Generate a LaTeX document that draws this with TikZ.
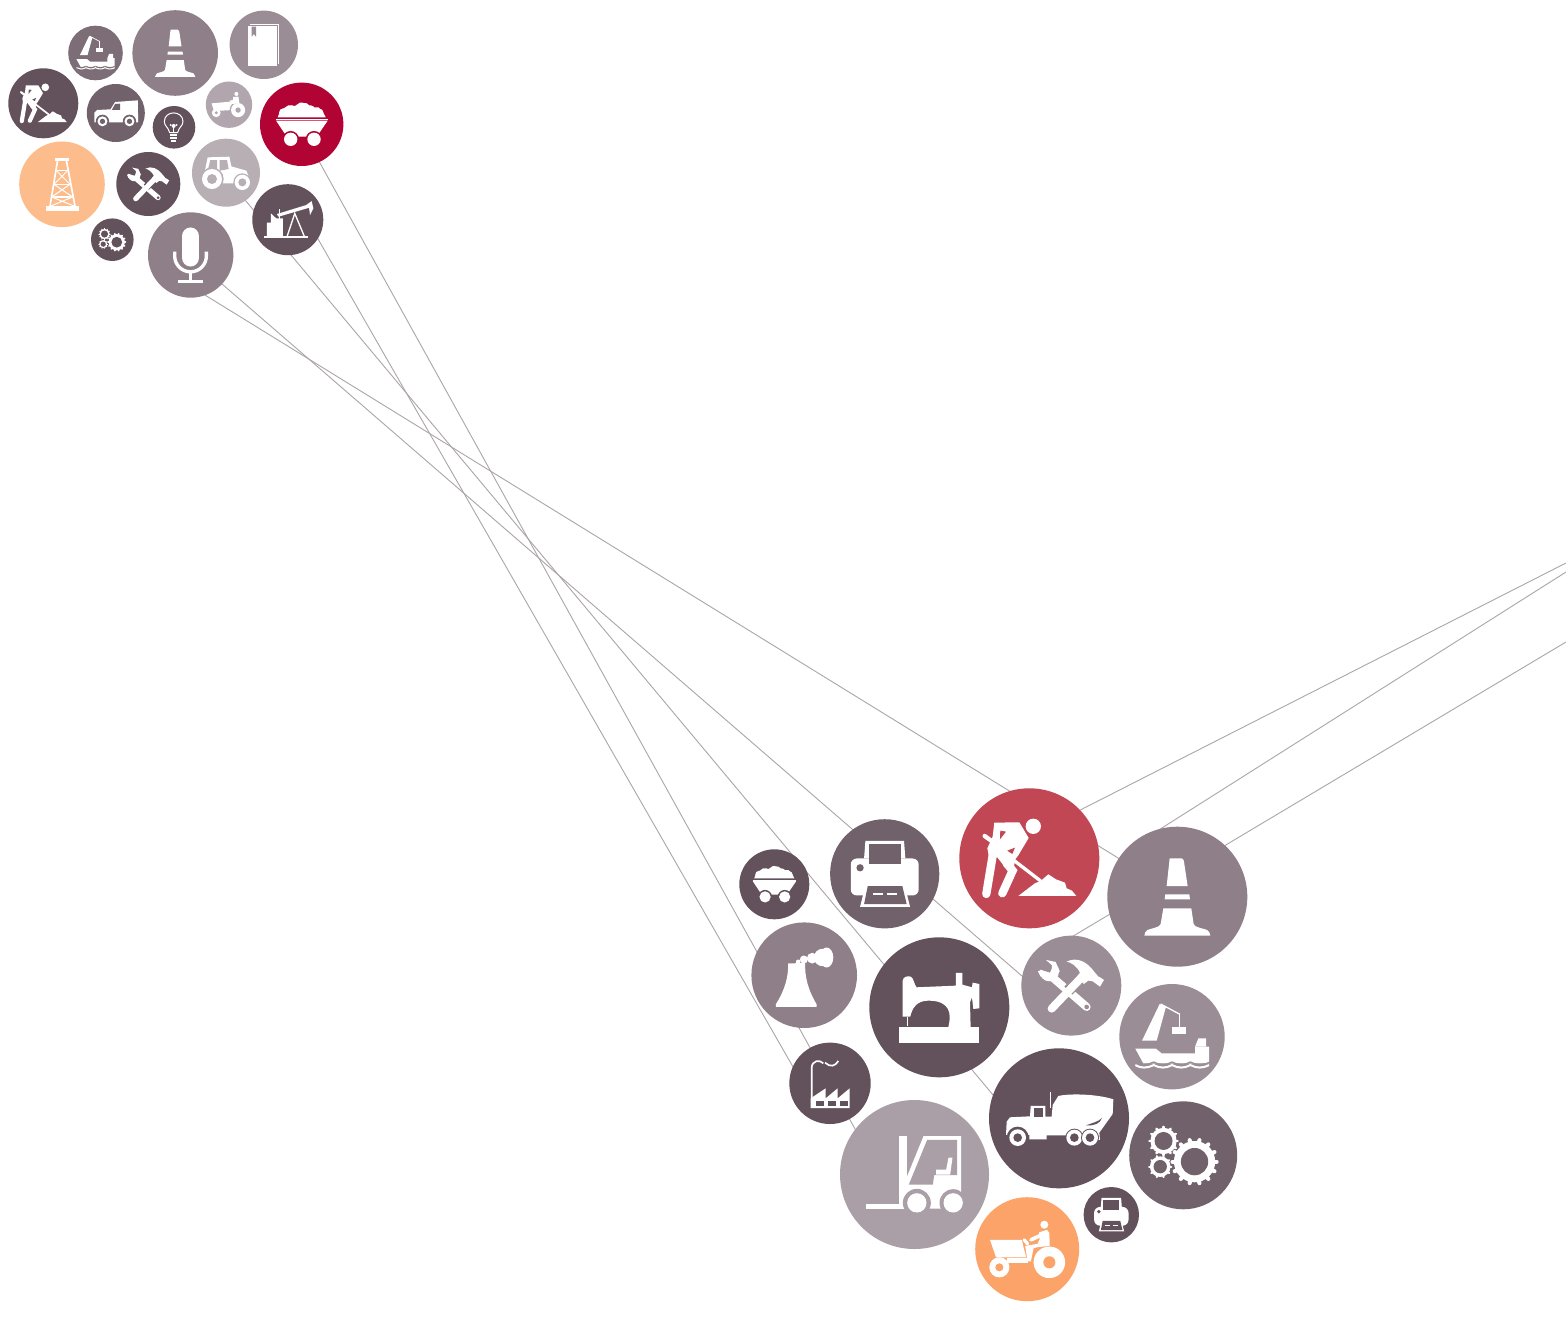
\documentclass[tikz,border=0pt]{standalone}
\usetikzlibrary{backgrounds}
\definecolor{cDark}{HTML}{63525C}
\definecolor{cDarkB}{HTML}{71616B}
\definecolor{cShipT}{HTML}{7D6D77}
\definecolor{cMid}{HTML}{8F7F88}
\definecolor{cMidB}{HTML}{9B8D96}
\definecolor{cLight}{HTML}{AB9FA7}
\definecolor{cLightB}{HTML}{B1A6AD}
\definecolor{cLightC}{HTML}{B8AFB5}
\definecolor{cRed}{HTML}{B20335}
\definecolor{cRose}{HTML}{C04753}
\definecolor{cPeach}{HTML}{FCBC8C}
\definecolor{cOrange}{HTML}{FBA369}
\definecolor{cLine}{HTML}{ABA5A9}
\newlength\iu
\tikzset{
  badge/.style={circle,inner sep=0pt,outer sep=0pt,draw=none},
  wh/.style={fill=white,draw=none},
  hole/.style={fill=bg,draw=none},
  st/.style={draw=white,line width=#1*\iu},
  stb/.style={draw=bg,line width=#1*\iu},
  wire/.style={draw=cLine,line width=0.45pt}
}
\long\def\icondef#1#2#3#4#5{%
  \expandafter\def\csname set#1\endcsname{\def\ix{#2}\def\iy{#3}\def\iR{#4}}%
  \expandafter\long\expandafter\def\csname draw#1\endcsname{#5}}
\newcommand\badge[6]{%
  \node[badge,fill=#6,minimum size=#5 pt] (#1) at (#3,#4) {};
  \colorlet{bg}{#6}%
  \csname set#2\endcsname
  \pgfmathsetmacro\iconscale{#5/\iR}%
  \pgfmathsetlength\iu{\iconscale*0.5pt}%
  \begin{scope}[shift={(#3,#4)},scale=\iconscale,shift={(-\ix,-\iy)}]
    \csname draw#2\endcsname
  \end{scope}}
\newcommand\gearshape[5]{%
  \fill[wh] (#1,#2) circle ({#3*.86});
  \foreach \k in {1,...,#5}{%
    \pgfmathsetmacro\ang{\k*360/#5}%
    \draw[st={#3*.17},line cap=round] (#1,#2) ++(\ang:{#3*.8}) -- ++(\ang:{#3*.12});
  }
  \fill[hole] (#1,#2) circle (#4);}
\newcommand\rwheel[5]{% x y arch outer hole
  \fill[hole] (#1,#2) circle (#3);
  \fill[wh] (#1,#2) circle (#4);
  \fill[hole] (#1,#2) circle (#5);}

\icondef{Worker}{238}{235}{210}{
  \fill[wh] (250,139) circle (23);
  \fill[wh] (133,128)--(208,127)--(236,174)--(205,226)--(196,238)--(190,270)--(165,262)--(142,232)--(118,235)--(112,205)--(128,170)--cycle;
  \draw[st=25,line cap=round] (130,215)--(109,342);
  \draw[st=25,line cap=round] (170,250)--(188,272)--(157,340);
  \draw[st=13,line cap=round] (104,168)--(140,194);
  \draw[st=10] (185,236)--(272,303);
  \fill[hole] (151,152)--(168,155)--(150,178)--cycle;
  \fill[hole] (172,212)--(195,203)--(187,222)--cycle;
  \fill[wh] (205,348)--(235,325)--(255,310)--(272,303)--(295,283)--(318,298)--(345,308)--(350,325)--(366,332)--(379,348)--cycle;
}
\icondef{Cone}{682}{350}{210}{
  \fill[wh] (660,235)--(695,235)..controls (700,236) and (701,240)..(702,245)--(713,318)--(650,318)--(658,245)..controls (658,240) and (658,236)..(660,235)--cycle;
  \fill[wh] (646,343)--(718,343)--(720,358)--(644,358)--cycle;
  \fill[wh] (640,385)--(724,385)--(731,432)..controls (733,442) and (760,445)..(772,450)..controls (778,454) and (780,460)..(781,467)--(583,467)..controls (584,460) and (586,454)..(592,450)..controls (604,445) and (630,442)..(632,432)--cycle;
}
\icondef{Tools}{364}{617}{150}{
  \draw[st=24,line cap=round] (305,590)--(410,681);
  \fill[wh] (298,575) circle (29);
  \fill[hole] (300,578)--(258,565)--(268,540)--(290,532)--(316,540)--cycle;
  \fill[wh] (264,574)--(276,570)--(284,586)--(272,590)--cycle;
  \fill[wh] (288,540)--(317,546)--(330,575)--(305,575)--(306,556)--cycle;
  \fill[hole] (410,681) circle (7);
  \draw[stb=34] (398,590)--(355,632);
  \draw[st=24,line cap=round] (395,592)--(305,686);
  \fill[wh] (350,545)..controls (380,530) and (410,545)..(430,572)--(445,590)--(450,592)--(462,600)--(450,620)--(428,604)--(415,602)--(402,612)--(380,592)--(390,578)..controls (380,558) and (365,548)..(350,545)--cycle;
}
\icondef{Ship}{666}{770}{158}{
  \fill[wh] (576,782)--(629,672)--(648,680)--(620,782)--cycle;
  \draw[st=4] (632,672)--(690,703);
  \draw[st=3] (687,703)--(687,740);
  \fill[wh] (667,740) rectangle (708,763);
  \fill[wh] (735,800)--(745,775)--(768,775)--(768,800)--cycle;
  \fill[wh] (556,806)--(618,806)--(635,820)--(735,820)--(735,800)--(777,800)--(777,850)--(580,850)--cycle;
  \draw[stb=4] (556,846)..controls (572,856) and (592,856)..(611,846)..controls (630,856) and (648,856)..(666,846)..controls (685,856) and (703,856)..(721,846)..controls (740,856) and (758,856)..(780,846);
  \draw[st=6] (556,855)..controls (572,865) and (592,865)..(611,855)..controls (630,865) and (648,865)..(666,855)..controls (685,865) and (703,865)..(721,855)..controls (740,865) and (758,865)..(777,855);
}
\icondef{Cart}{905}{373}{125}{
  \fill[wh] (833,352)--(977,352)--(968,335)--(955,322)--(935,322)--(920,310)--(900,308)--(885,318)--(865,316)--(850,326)--(840,335)--cycle;
  \fill[wh] (850,338) circle (13) (875,328) circle (12) (905,320) circle (12) (932,328) circle (12) (958,338) circle (12);
  \draw[st=3] (828,358)--(983,358);
  \fill[wh] (828,362)--(983,362)--(950,410)--(860,410)--cycle;
  \rwheel{872}{418}{25}{20}{0.01}
  \rwheel{942}{418}{25}{20}{0.01}
}
\icondef{Sewing}{628}{680}{210}{
  \fill[wh] (508,740) rectangle (748,788);
  \fill[wh] (518,600)..controls (520,588) and (532,585)..(542,588)..controls (552,592) and (552,612)..(560,620)--(678,615)--(678,577)--(697,577)--(697,612)--(726,620)--(728,606)--(748,610)--(748,683)--(730,685)--(726,650)--(720,665)--(722,740)--(655,740)..controls (665,700) and (662,660)..(595,660)..controls (558,660) and (546,685)..(541,708)--(518,708)--cycle;
  \draw[st=3] (533,708)--(533,735);
}
\icondef{Printer}{464}{281}{164}{
  \fill[wh] (406,182)--(522,182)--(526,235)--(402,235)--cycle;
  \fill[wh,rounded corners=3pt] (362,235) rectangle (566,346);
  \fill[hole] (416,192) rectangle (512,252);
  \fill[hole] (390,263) circle (11);
  \fill[wh] (400,340)--(530,340)--(540,380)--(390,380)--cycle;
  \fill[hole] (413,318)--(517,318)--(530,372)--(402,372)--cycle;
  \fill[wh] (428,339) rectangle (458,346);
  \fill[wh] (472,339) rectangle (502,346);
}
\icondef{Tower}{223}{585}{158}{
  \fill[wh] (175,550)--(226,548)..controls (224,590) and (235,630)..(260,672)--(260,680)--(138,680)--(138,672)..controls (165,630) and (176,590)..(175,550)--cycle;
  \fill[wh] (290,532) ellipse (20 and 30);
  \fill[wh] (278,532) circle (26);
  \fill[wh] (247,534) circle (16);
  \fill[wh] (222,538) circle (12);
  \fill[wh] (205,545) circle (7);
}
\icondef{Factory}{150}{130}{122}{
  \draw[st=5] (95,175)--(95,82)..controls (97,62) and (118,58)..(130,70);
  \draw[st=5] (135,68)..controls (150,82) and (165,80)..(175,63);
  \fill[wh] (92,204)--(92,175)--(137,145)--(137,175)--(173,145)--(173,175)--(209,145)--(209,204)--cycle;
  \fill[hole] (107,183) rectangle (132,197);
  \fill[hole] (143,183) rectangle (167,197);
  \fill[hole] (179,183) rectangle (203,197);
}
\icondef{Forklift}{403}{403}{223.5}{
  \fill[wh] (357,288) rectangle (380,490);
  \fill[wh] (258,490) rectangle (375,505);
  \fill[wh] (378,435)--(378,415)--(430,288)--(543,288)--(543,480)--(555,505)--(365,505)--(365,490)--(378,480)--cycle;
  \fill[hole] (441,299)--(531,299)--(531,405)--(462,405)--(458,433)--(386,433)--cycle;
  \fill[wh] (468,388)--(498,388)--(505,352)--(517,352)--(510,403)--(468,403)--cycle;
  \rwheel{410}{488}{42}{29}{0.01}
  \rwheel{519}{488}{41}{29}{0.01}
}
\icondef{Mixer}{837}{235}{210}{
  \draw[st=4] (812,155)--(812,205);
  \fill[wh] (678,285)--(680,245)--(690,232)--(750,229)--(752,198)--(796,198)--(796,230)--(815,230)--(818,195)--(835,168)..controls (870,160) and (950,162)..(1000,178)--(998,222)--(958,278)--(960,300)--(860,298)--(860,286)--(800,286)--(800,298)--(748,298)--(748,285)--cycle;
  \fill[hole] (762,205) rectangle (790,230);
  \fill[hole] (918,256)..controls (940,248) and (955,245)..(966,234)..controls (960,250) and (945,258)..(918,256)--cycle;
  \rwheel{713}{293}{33}{25}{13}
  \rwheel{883}{293}{27}{24}{13}
  \rwheel{930}{293}{27}{24}{13}
}
\icondef{Gears}{1209}{346}{162}{
  \gearshape{1243}{365}{72}{41}{14}
  \gearshape{1150}{303}{46}{27}{12}
  \gearshape{1140}{380}{36}{20}{10}
}
\icondef{Mower}{741}{628}{155}{
  \fill[wh] (630,600)--(725,600)--(730,622)--(738,652)--(648,652)--cycle;
  \fill[wh] (680,654)--(742,654)--(742,668)--(680,668)--cycle;
  \fill[wh] (658,682) circle (30);
  \fill[hole] (658,682) circle (12);
  \fill[wh] (807,667) circle (47);
  \fill[hole] (807,667) circle (18);
  \fill[wh] (792,555) circle (12);
  \fill[wh] (776,578)--(800,570)--(807,580)--(808,618)--(772,622)--(760,625)--(752,664)--(742,664)--(735,618)--(772,612)--(778,598)--cycle;
  \draw[st=11,line cap=round] (752,600)--(785,585);
  \draw[st=10,line cap=round] (732,600)--(742,612);
}
\icondef{Jeep}{344}{339}{87}{
  \fill[wh] (280,367)--(280,338)--(288,330)--(328,328)--(342,306)--(410,301)--(411,367)--cycle;
  \fill[hole] (342,312)--(357,311)--(357,330)--(332,330)--cycle;
  \rwheel{304}{364}{20}{15}{8}
  \rwheel{385}{364}{20}{15}{8}
}
\icondef{Bulb}{523}{382}{64}{
  \draw[st=3] (510,398)..controls (505,380) and (494,378)..(494,365)..controls (494,330) and (550,330)..(550,365)..controls (550,378) and (538,380)..(534,398)--cycle;
  \fill[wh] (522,378) circle (6) (513,375) circle (3) (531,375) circle (3);
  \draw[st=3] (522,380)--(522,398);
  \fill[wh] (512,403) rectangle (533,408);
  \fill[wh] (512,411) rectangle (533,416);
  \fill[wh] (515,419) rectangle (530,425);
}
\icondef{SmallTractor}{688}{314}{69}{
  \fill[wh] (636,310)--(692,305)--(697,315)--(695,330)--(660,332)--(642,328)--cycle;
  \fill[wh] (650,338) circle (13);
  \fill[hole] (650,338) circle (5);
  \fill[hole] (715,330) circle (25);
  \fill[wh] (715,330) circle (21);
  \fill[hole] (715,330) circle (8);
  \fill[wh] (710,282) circle (6);
  \fill[wh] (700,291)--(716,290)--(719,310)--(695,312)--(690,302)--(700,300)--cycle;
}
\icondef{Tractor}{677}{516}{102}{
  \fill[wh] (612,518)--(622,470)--(687,468)--(693,497)--(738,510)--(746,530)--(705,535)--(700,548)--(660,548)--(655,518)--cycle;
  \fill[hole] (630,478)--(650,478)--(650,510)--(622,510)--cycle;
  \fill[hole] (658,478)--(680,478)--(685,505)--(658,510)--cycle;
  \rwheel{635}{535}{35}{30}{15}
  \rwheel{726}{545}{27}{23}{12}
}
\icondef{Book}{791}{134}{102}{
  \fill[wh] (744,79) rectangle (830,196);
  \fill[wh] (750,72) rectangle (837,75);
  \fill[wh] (834,72) rectangle (837,190);
  \fill[hole] (755,80)--(768,80)--(768,110)--(761,102)--(755,110)--cycle;
}
\icondef{Rig}{186}{552}{128}{
  \fill[wh] (138,618) rectangle (236,632);
  \fill[wh] (166,472) rectangle (206,481);
  \draw[st=5] (173,480)--(150,618) (199,480)--(225,618);
  \draw[st=3.5] (168,510)--(204,510) (162,552)--(210,552) (155,590)--(218,590);
  \draw[st=3] (168,510)--(210,552) (204,510)--(162,552) (162,552)--(218,590) (210,552)--(155,590) (155,590)--(225,618) (218,590)--(150,618);
}
\icondef{Pumpjack}{863}{659}{107}{
  \fill[wh] (790,708) rectangle (925,715);
  \fill[wh] (800,708)--(800,668)--(812,668)--(812,640)--(828,655)--(848,655)--(848,708)--cycle;
  \draw[st=4] (838,628)--(838,660);
  \fill[wh] (830,642)--(918,615)--(935,603)--(940,625)--(930,645)--(927,623)--(835,650)--cycle;
  \draw[st=4] (860,712)--(884,640)--(914,712);
}
\icondef{Mic}{572}{765}{128}{
  \draw[st=53,line cap=round] (571.5,709)--(571.5,773);
  \draw[st=10] (524,755)--(524,768) arc[start angle=180,end angle=0,radius=47.5]--(619,755);
  \draw[st=10] (572,815)--(572,845);
  \draw[st=10] (535,845)--(609,845);
}

\begin{document}
\begin{tikzpicture}[x=0.5pt,y=-0.5pt]
\useasboundingbox (0,0) rectangle (1566,1316);
% upper cluster
\badge{tShip}{Ship}{95.5}{53}{27.3}{cShipT}
\badge{tCone}{Cone}{175.2}{53}{42.8}{cMid}
\badge{tBook}{Book}{263.8}{44.8}{34.2}{cMidB}
\badge{tWorker}{Worker}{43.3}{103.3}{35}{cDark}
\badge{tJeep}{Jeep}{115.8}{113}{29}{cDarkB}
\badge{tBulb}{Bulb}{174}{127.3}{21.3}{cDark}
\badge{tSmall}{SmallTractor}{229}{104.7}{23.2}{cLightB}
\badge{tCart}{Cart}{301.7}{124.3}{41.7}{cRed}
\badge{tRig}{Rig}{62}{184.3}{42.8}{cPeach}
\badge{tTools}{Tools}{148.3}{184}{32}{cDark}
\badge{tTractor}{Tractor}{226}{172.7}{34}{cLightC}
\badge{tPump}{Pumpjack}{287.8}{219.7}{35.5}{cDark}
\badge{tGears}{Gears}{112.3}{239.7}{21.3}{cDark}
\badge{tMic}{Mic}{190.7}{255}{42.7}{cMid}
% lower cluster
\badge{bCart}{Cart}{774.3}{884.3}{35}{cDark}
\badge{bPrinter}{Printer}{884.7}{873.8}{54.6}{cDarkB}
\badge{bWorker}{Worker}{1029.3}{858.3}{70}{cRose}
\badge{bCone}{Cone}{1177.3}{896.7}{70}{cMid}
\badge{bTools}{Tools}{1071.3}{985.6}{50}{cMidB}
\badge{bShip}{Ship}{1172}{1036.7}{52.7}{cMidB}
\badge{bTower}{Tower}{804.2}{975.2}{52.8}{cMid}
\badge{bSewing}{Sewing}{939.3}{1007.3}{70}{cDark}
\badge{bFactory}{Factory}{830}{1083.3}{40.7}{cDark}
\badge{bFork}{Forklift}{914.5}{1174.5}{74.5}{cLight}
\badge{bMixer}{Mixer}{1059}{1118.3}{70}{cDark}
\badge{bGears}{Gears}{1183.2}{1155.3}{54}{cDarkB}
\badge{bPrintS}{Printer}{1111.3}{1214.7}{27.7}{cDark}
\badge{bMower}{Mower}{1027.2}{1249.2}{52}{cOrange}
\coordinate (edgeA) at (1566,563);
\coordinate (edgeB) at (1566,572);
\coordinate (edgeC) at (1566,642);
\begin{scope}[on background layer]
  \fill[white] (0,0) rectangle (1566,1316);
  \draw[wire] ([shift={(8.3,20.7)}]tCart.center) -- ([shift={(-44.5,-18.5)}]bFork.center);
  \draw[wire] ([shift={(17.2,-3.4)}]tPump.center) -- ([shift={(-25,4.5)}]bFactory.center);
  \draw[wire] ([shift={(9,15.3)}]tTractor.center) -- ([shift={(-49,-3)}]bMixer.center);
  \draw[wire] ([shift={(19.3,18.6)}]tMic.center) -- ([shift={(-31.3,6)}]bTools.center);
  \draw[wire] ([shift={(-0.7,30.8)}]tMic.center) -- ([shift={(-37.3,-25.2)}]bCone.center);
  \draw[wire] (edgeA) -- ([shift={(30.7,-38)}]bWorker.center);
  \draw[wire] (edgeB) -- ([shift={(-27.3,-61.2)}]bCone.center);
  \draw[wire] (edgeC) -- ([shift={(-11.3,-41.7)}]bTools.center);
\end{scope}
\end{tikzpicture}
\end{document}
